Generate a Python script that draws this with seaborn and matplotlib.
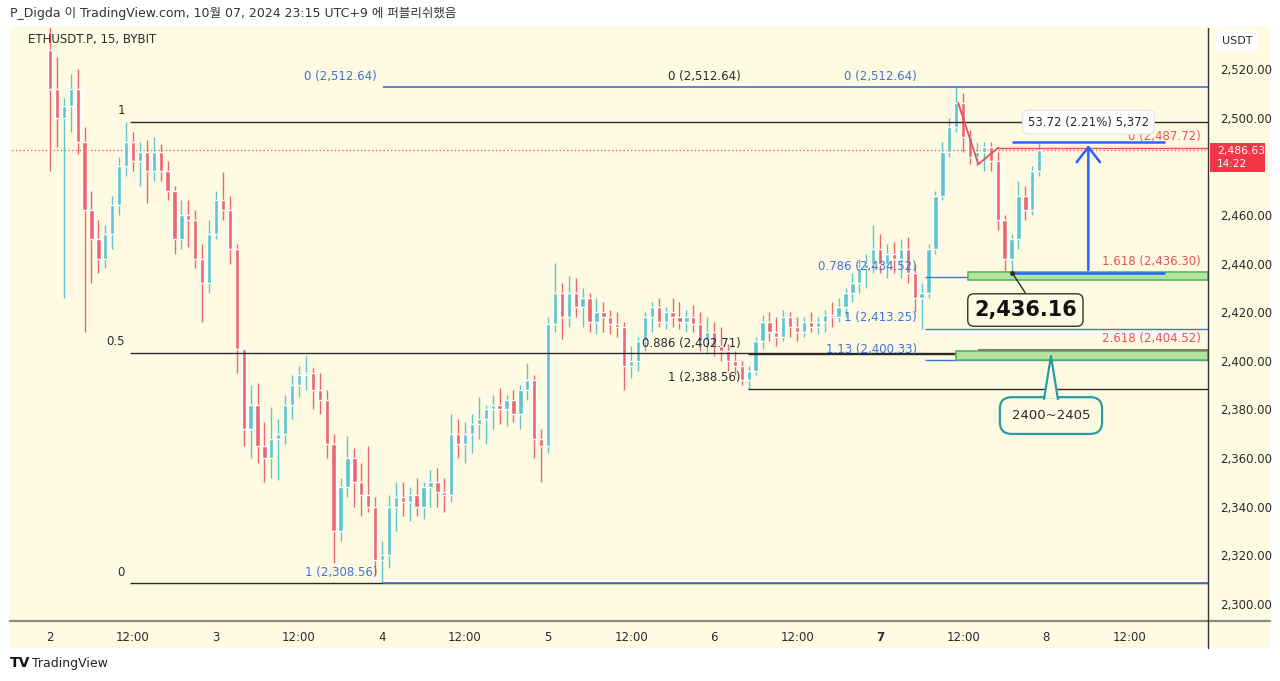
import numpy as np
import matplotlib
matplotlib.use('Agg')
import matplotlib.pyplot as plt
from matplotlib.patches import Rectangle, Polygon
from matplotlib.lines import Line2D
import seaborn as sns

# ETHUSDT.P (BYBIT) - 15분봉 차트를 1시간 단위로 읽은 값, 10/2 00:00 부터
first_open = 2528
high = [2545, 2525, 2508, 2518, 2520, 2496, 2470, 2458, 2456, 2468, 2484, 2498.3,
        2494, 2490, 2491, 2492, 2489, 2482, 2472, 2466, 2466, 2462, 2448, 2458,
        2470, 2477.6, 2468, 2448, 2405, 2390, 2391, 2375, 2381, 2376, 2386, 2394,
        2398, 2402, 2397, 2395, 2388, 2370, 2352, 2369, 2364, 2358, 2365, 2344,
        2326, 2345, 2350, 2350, 2348, 2352, 2350, 2355, 2356, 2352, 2378, 2376,
        2375, 2378, 2385, 2382, 2386, 2389, 2386, 2388, 2390, 2399, 2394, 2372,
        2418, 2440.2, 2432, 2435, 2434, 2430, 2428, 2426, 2424, 2421, 2420, 2416,
        2406, 2410, 2420, 2424, 2426, 2422, 2426, 2424, 2421, 2423, 2420, 2418,
        2416, 2414, 2407, 2404, 2400, 2398, 2410, 2419, 2420, 2418, 2421, 2420,
        2418, 2418, 2420, 2418, 2421, 2424, 2426, 2430, 2436, 2442, 2444, 2456,
        2452, 2448, 2449, 2450, 2451, 2440, 2432, 2448, 2470, 2490, 2500, 2512.64,
        2510, 2495, 2490, 2490, 2490, 2486, 2460, 2452, 2474, 2472, 2480, 2489.9]
low = [2478, 2488, 2426, 2494, 2485, 2412, 2432, 2436, 2438, 2446, 2460, 2476,
       2478, 2472, 2465, 2474, 2474, 2466, 2444, 2446, 2447, 2438, 2416, 2428,
       2450, 2458, 2440, 2395, 2365, 2360, 2358, 2350, 2352, 2351, 2366, 2376,
       2385, 2388, 2380, 2378, 2360, 2317, 2326, 2344, 2340, 2336, 2338, 2312,
       2308.56, 2314.8, 2330, 2336, 2334, 2336, 2335, 2340, 2340, 2338, 2342, 2360,
       2358, 2362, 2368, 2366, 2372, 2374, 2373, 2375, 2372, 2384, 2360, 2350,
       2362, 2412, 2409, 2414, 2418, 2414, 2412, 2411, 2412, 2411, 2410, 2388,
       2393, 2396, 2404, 2412, 2414, 2413, 2414, 2413, 2412, 2412, 2404, 2403,
       2402, 2400, 2396, 2394, 2390, 2388.56, 2394, 2405, 2408, 2406, 2408, 2410,
       2408, 2410, 2412, 2411, 2412, 2414, 2416, 2418, 2424, 2428, 2430, 2436,
       2436, 2434, 2436, 2434, 2432, 2420, 2413.25, 2426, 2444, 2466, 2484, 2494,
       2486, 2481, 2480, 2478, 2478, 2454, 2437, 2436.16, 2446, 2458, 2460, 2476]
close = [2512, 2500, 2505, 2512, 2490, 2462, 2450, 2442, 2452, 2464, 2480, 2490,
         2482, 2486, 2478, 2486, 2478, 2470, 2450, 2460, 2458, 2442, 2432, 2452,
         2466, 2462, 2446, 2405, 2372, 2382, 2365, 2360, 2368, 2370, 2382, 2390,
         2394, 2395, 2388, 2384, 2366, 2330, 2348, 2360, 2350, 2345, 2340, 2318,
         2320, 2340, 2344, 2342, 2345, 2340, 2348, 2350, 2346, 2345, 2370, 2366,
         2370, 2374, 2376, 2380, 2382, 2380, 2384, 2378, 2388, 2392, 2368, 2365,
         2415, 2428, 2418, 2428, 2422, 2426, 2416, 2420, 2418, 2415, 2414, 2398,
         2400, 2408, 2418, 2422, 2416, 2420, 2418, 2416, 2418, 2415, 2408, 2412,
         2406, 2404, 2400, 2398, 2392, 2396, 2408, 2416, 2412, 2410, 2418, 2414,
         2412, 2416, 2414, 2416, 2419, 2418, 2422, 2428, 2432, 2438, 2440, 2446,
         2440, 2444, 2442, 2446, 2436, 2426, 2428, 2446, 2468, 2486, 2496, 2506,
         2492, 2484, 2486, 2488, 2482, 2458, 2442, 2450, 2468, 2462, 2478, 2486.63]

last_price = 2486.63
y_ticks = [2520, 2500, 2460, 2440, 2420, 2400, 2380, 2360, 2340, 2320, 2300]
x_ticks = [0, 12, 24, 36, 48, 60, 72, 84, 96, 108, 120, 132, 144, 156]
x_labels = ['2', '12:00', '3', '12:00', '4', '12:00', '5', '12:00', '6', '12:00', '7', '12:00', '8', '12:00']

# 피보나치 (레벨, 가격)
fib_black_left = [(1, 2498.30), (0.5, 2403.43), (0, 2308.56)]
fib_blue_big = [(0, 2512.64), (1, 2308.56)]
fib_black_mid = [(0, 2512.64), (0.886, 2402.71), (1, 2388.56)]
fib_blue_small = [(0, 2512.64), (0.786, 2434.52), (1, 2413.25), (1.13, 2400.33)]
fib_red_ext = [(0, 2487.72), (1.618, 2436.30), (2.618, 2404.52)]
zigzag_h = [131.3, 134.2, 137.1]
zigzag_p = [2506.0, 2480.86, 2487.72]
measure_low, measure_high = 2436.16, 2489.88

sns.set_theme(style='white')
plt.rcParams['font.family'] = ['DejaVu Sans', 'Noto Sans CJK KR']

cream = '#fffbe3'
up_c = '#5ec6cb'
dn_c = '#ec6670'
blue = '#3f72da'
red = '#e8505b'
dark = '#2a2a2a'

fig = plt.figure(figsize=(12.8, 6.81), dpi=100)
fig.patch.set_facecolor('white')
fig.add_artist(Rectangle((10 / 1280, 33 / 681), 1260 / 1280, 621 / 681,
                         transform=fig.transFigure, facecolor=cream, edgecolor='none', zorder=0))
ax = fig.add_axes([10 / 1280, 60 / 681, 1198 / 1280, 593 / 681])
ax.set_facecolor(cream)

hours = np.arange(len(close))
opens = np.array([first_open] + close[:-1])
close_a = np.array(close)
hi = np.maximum(np.array(high), np.maximum(opens, close_a))
lo = np.minimum(np.array(low), np.minimum(opens, close_a))
colors = np.where(close_a >= opens, up_c, dn_c)

ax.vlines(hours, lo, hi, colors=colors, lw=1.0, zorder=2)
body = np.maximum(np.abs(close_a - opens), 0.6)
ax.bar(hours, body, bottom=np.minimum(opens, close_a), width=0.62, color=colors, zorder=3)

x_end = 167.4
# 현재가 점선
ax.hlines(last_price, -6, x_end, colors=red, linestyles=(0, (1, 2)), lw=0.9, zorder=1)


def fib(levels, x0, color, z, label_x, label_color, fmt, lw=1.0, skip_line=()):
    for lvl, p in levels:
        if lvl not in skip_line:
            ax.hlines(p, x0, x_end, colors=color, lw=lw, zorder=z)
        ax.text(label_x, p + 1.8, fmt(lvl, p), color=label_color, fontsize=8.5,
                ha='right', va='bottom', zorder=6)


def full(l, p):
    return f'{l:g} ({p:,.2f})'


# 겹치는 선은 파란 선이 위에 보이므로 검은 선은 생략
fib(fib_black_left, 11.6, dark, 4, 10.8, dark, lambda l, p: f'{l:g}')
fib(fib_black_mid, 100.9, dark, 4, 99.8, dark, full, skip_line=(0,))
fib(fib_blue_big, 48.1, blue, 4.5, 47.3, blue, full, lw=1.2)
fib(fib_blue_small, 126.5, blue, 4.5, 125.3, blue, full, skip_line=(0,))
fib(fib_red_ext, 137.1, red, 4.6, 166.3, red, full)

sns.lineplot(x=zigzag_h, y=zigzag_p, ax=ax, color=red, lw=1.3, sort=False, zorder=5)

# 초록 박스
ax.add_patch(Rectangle((132.7, 2433.4), x_end - 132.7, 3.0, facecolor='#b4e3a0',
                       edgecolor='#55b85a', lw=1.2, zorder=5))
ax.add_patch(Rectangle((131.0, 2400.4), x_end - 131.0, 3.8, facecolor='#b4e3a0',
                       edgecolor='#55b85a', lw=1.2, zorder=5))
ax.hlines(2404.52, 134.2, x_end, colors='#8a7a6a', lw=1.5, zorder=6)

# 측정 도구
ax.hlines([measure_low, measure_high], 139.0, 161.2, colors='#2962ff', lw=1.8, zorder=7)
ax.annotate('', xy=(150.1, measure_high), xytext=(150.1, measure_low),
            arrowprops=dict(arrowstyle='->,head_width=0.7,head_length=0.9', color='#2962ff', lw=1.8),
            zorder=7)
ax.text(150.1, 2498.2, '53.72 (2.21%) 5,372', fontsize=8.5, ha='center', va='center', color=dark,
        bbox=dict(boxstyle='round,pad=0.45', facecolor='white', edgecolor='#e6e6e6'), zorder=8)

# 저점 콜아웃
ax.plot([139.1, 141.0], [2436.16, 2427.9], color=dark, lw=1, zorder=8)
ax.plot([139.1], [2436.16], marker='o', ms=2.5, color=dark, zorder=8)
ax.text(141.0, 2420.9, '2,436.16', fontsize=15, fontweight='bold', ha='center', va='center',
        color='#111', bbox=dict(boxstyle='round,pad=0.3', facecolor=cream, edgecolor='#333', lw=1),
        zorder=8)

# 2400~2405 콜아웃
teal = '#2a9da3'
ax.text(144.7, 2377.5, '2400~2405', fontsize=9.5, ha='center', va='center', color=dark,
        bbox=dict(boxstyle='round,pad=0.9', facecolor=cream, edgecolor=teal, lw=1.6), zorder=8)
ax.add_patch(Polygon([(143.7, 2384.6), (144.7, 2402.0), (145.7, 2384.6)], closed=True,
                     facecolor=cream, edgecolor='none', zorder=9))
ax.plot([143.7, 144.7, 145.7], [2384.3, 2402.0, 2384.3], color=teal, lw=1.6, zorder=9)

ax.set_xlim(-5.78, x_end)
ax.set_ylim(2293.0, 2536.9)
ax.set_xticks(x_ticks)
ax.set_xticklabels(x_labels, fontsize=8.5, color=dark)
ax.get_xticklabels()[10].set_fontweight('bold')
ax.yaxis.tick_right()
ax.set_yticks(y_ticks)
ax.set_yticklabels([f'{v:,.2f}' for v in y_ticks], fontsize=8.5, color=dark)
ax.tick_params(axis='both', length=0)
ax.tick_params(axis='x', pad=7)
ax.tick_params(axis='y', pad=9)
for s in ['top', 'left', 'right', 'bottom']:
    ax.spines[s].set_visible(False)

# 축 구분선
fig.add_artist(Line2D([10 / 1280, 1270 / 1280], [60 / 681, 60 / 681], color='#8a8a80', lw=1.6))
fig.add_artist(Line2D([1208 / 1280, 1208 / 1280], [33 / 681, 653 / 681], color='#333333', lw=1.0))

# 현재가 라벨
yt = ax.get_yaxis_transform()
ax.add_patch(Rectangle((1.0017, 2477.6), 0.046, 12.0, transform=yt, facecolor='#f23645',
                       edgecolor='none', clip_on=False, zorder=10))
ax.text(1.0075, 2486.3, f'{last_price:,.2f}', transform=yt, fontsize=7.8, color='white',
        ha='left', va='center', clip_on=False, zorder=11)
ax.text(1.0075, 2481.0, '14:22', transform=yt, fontsize=7.5, color='white',
        ha='left', va='center', clip_on=False, zorder=11)

fig.text(1237 / 1280, 1 - 41 / 681, 'USDT', fontsize=8, color=dark, ha='center', va='center',
         bbox=dict(boxstyle='round,pad=0.5', facecolor='white', edgecolor='none'))

fig.text(10 / 1280, 1 - 13 / 681, 'P_Digda 이 TradingView.com, 10월 07, 2024 23:15 UTC+9 에 퍼블리쉬했음',
         fontsize=9, color='#333333', ha='left', va='center')
ax.text(18 / 1198, 1 - 12 / 593, 'ETHUSDT.P, 15, BYBIT', transform=ax.transAxes,
        fontsize=8.5, color=dark, ha='left', va='center', zorder=12)
fig.text(10 / 1280, 1 - 663 / 681, 'TV', fontsize=10, fontweight='heavy', color='#111', ha='left', va='center')
fig.text(32 / 1280, 1 - 663 / 681, 'TradingView', fontsize=9, color='#222', ha='left', va='center')

fig.savefig('out.png', dpi=100, facecolor='white')
